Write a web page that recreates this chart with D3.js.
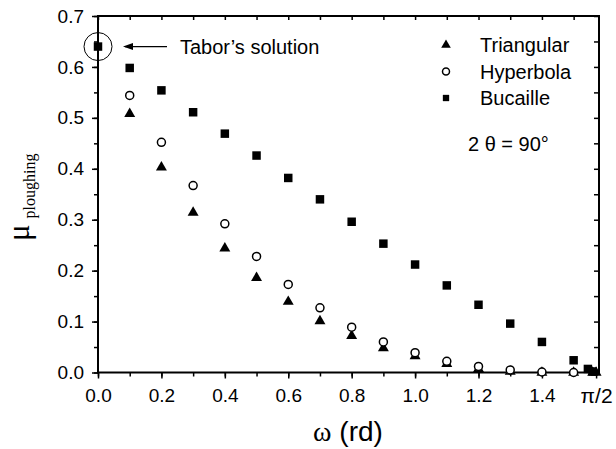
<!DOCTYPE html>
<html>
<head>
	<script src="https://cdnjs.cloudflare.com/ajax/libs/d3/7.8.2/d3.min.js"></script>
	<style>
		body { margin: 0 ; background: white ; }
		svg { display: block ; }
		.tick text { font-family: Arial, "Liberation Sans", sans-serif ; }
	</style>
</head>
<body>
	<svg id="canvas"></svg>
</body>
<script>
	// data
	let xTriangular = [ 0.1, 0.2, 0.3, 0.4, 0.5, 0.6, 0.7, 0.8, 0.9, 1.0, 1.1, 1.2, 1.3, 1.4, 1.5, 1.56, 1.5708 ] ;
	let yTriangular = [ 0.508, 0.403, 0.314, 0.244, 0.186, 0.139, 0.101, 0.072, 0.048, 0.032, 0.017, 0.007, 0.002, 0.0, 0.0, 0.0, 0.0 ] ;

	let xHyperbola = [ 0.1, 0.2, 0.3, 0.4, 0.5, 0.6, 0.7, 0.8, 0.9, 1.0, 1.1, 1.2, 1.3, 1.4, 1.5 ] ;
	let yHyperbola = [ 0.544, 0.452, 0.367, 0.292, 0.228, 0.173, 0.127, 0.089, 0.060, 0.039, 0.022, 0.012, 0.005, 0.001, 0.0 ] ;

	let xBucaille = [ 0.0, 0.1, 0.2, 0.3, 0.4, 0.5, 0.6, 0.7, 0.8, 0.9, 1.0, 1.1, 1.2, 1.3, 1.4, 1.5, 1.545, 1.56 ] ;
	let yBucaille = [ 0.640, 0.598, 0.554, 0.511, 0.469, 0.426, 0.382, 0.340, 0.296, 0.253, 0.212, 0.171, 0.133, 0.096, 0.060, 0.024, 0.007, 0.002 ] ;

	let xTicks = [ 0.0, 0.2, 0.4, 0.6, 0.8, 1.0, 1.2, 1.4, Math.PI / 2 ] ;
	let xTickLabels = [ "0.0", "0.2", "0.4", "0.6", "0.8", "1.0", "1.2", "1.4", "π/2" ] ;
	let xMinor = d3.range( 0, 16 ).map( i => i / 10 ) ;
	let yTicks = [ 0.0, 0.1, 0.2, 0.3, 0.4, 0.5, 0.6, 0.7 ] ;
	let yMinor = d3.range( 0, 15 ).map( i => i / 20 ) ;

	let legendNames = [ "Triangular", "Hyperbola", "Bucaille" ] ;
</script>
<script>
	let geom = {
		width: 616,
		height: 449,
		margin: { left: 98, right: 17, top: 16, bottom: 76.5 }
	} ;
	let scales = {
		x: d3.scaleLinear()
			.domain( [ 0, 1.58 ] )
			.range( [ geom.margin.left, geom.width - geom.margin.right ] ),
		y: d3.scaleLinear()
			.domain( [ 0, 0.7 ] )
			.range( [ geom.height - geom.margin.bottom, geom.margin.top ] )
	} ;

	let svg = d3.select( 'svg' )
		.attr( 'width', geom.width )
		.attr( 'height', geom.height ) ;

	let x0 = scales.x.range()[0], x1 = scales.x.range()[1] ;
	let y0 = scales.y.range()[0], y1 = scales.y.range()[1] ;

	let styleAxis = function( g ) {
		g.select( '.domain' ).remove() ;
		g.selectAll( 'line' ).attr( 'stroke', 'black' ).attr( 'stroke-width', 1.5 ) ;
		g.selectAll( 'text' ).attr( 'font-size', 19 ).attr( 'fill', 'black' ) ;
	} ;

	// minor ticks
	svg.append( 'g' )
		.attr( 'transform', 'translate(0,' + y0 + ')' )
		.call( d3.axisBottom( scales.x ).tickValues( xMinor ).tickSize( 4 ).tickFormat( '' ) )
		.call( styleAxis ) ;
	svg.append( 'g' )
		.attr( 'transform', 'translate(0,' + y1 + ')' )
		.call( d3.axisBottom( scales.x ).tickValues( xMinor ).tickSize( 4 ).tickFormat( '' ) )
		.call( styleAxis ) ;
	svg.append( 'g' )
		.attr( 'transform', 'translate(' + x0 + ',0)' )
		.call( d3.axisLeft( scales.y ).tickValues( yMinor ).tickSize( 4 ).tickFormat( '' ) )
		.call( styleAxis ) ;
	svg.append( 'g' )
		.attr( 'transform', 'translate(' + x1 + ',0)' )
		.call( d3.axisLeft( scales.y ).tickValues( yMinor ).tickSize( 5 ).tickFormat( '' ) )
		.call( styleAxis ) ;

	// labelled ticks
	svg.append( 'g' )
		.attr( 'transform', 'translate(0,' + y0 + ')' )
		.call( d3.axisBottom( scales.x ).tickValues( xTicks ).tickSize( 6 ).tickPadding( 10 )
			.tickFormat( ( d, i ) => xTickLabels[i] ) )
		.call( styleAxis )
		.selectAll( 'text' )
		.filter( ( d, i ) => i == xTicks.length - 1 )
		.attr( 'font-family', 'Times New Roman, Liberation Serif, serif' )
		.attr( 'font-size', 21 ) ;
	svg.append( 'g' )
		.attr( 'transform', 'translate(' + x0 + ',0)' )
		.call( d3.axisLeft( scales.y ).tickValues( yTicks ).tickSize( 6 ).tickPadding( 8 )
			.tickFormat( d3.format( '.1f' ) ) )
		.call( styleAxis ) ;

	// frame
	svg.append( 'rect' )
		.attr( 'x', x0 ).attr( 'y', y1 )
		.attr( 'width', x1 - x0 ).attr( 'height', y0 - y1 )
		.attr( 'fill', 'none' )
		.attr( 'stroke', 'black' )
		.attr( 'stroke-width', 2 ) ;

	// markers
	let triangle = d3.symbol().type( d3.symbolTriangle ).size( 52 ) ;
	let square = d3.symbol().type( d3.symbolSquare ).size( 72 ) ;

	svg.append( 'g' ).selectAll( 'path' )
		.data( d3.zip( xTriangular, yTriangular ) )
		.join( 'path' )
		.attr( 'transform', d => 'translate(' + scales.x( d[0] ) + ',' + scales.y( d[1] ) + ')' )
		.attr( 'd', triangle )
		.attr( 'fill', 'black' ) ;

	svg.append( 'g' ).selectAll( 'circle' )
		.data( d3.zip( xHyperbola, yHyperbola ) )
		.join( 'circle' )
		.attr( 'cx', d => scales.x( d[0] ) )
		.attr( 'cy', d => scales.y( d[1] ) )
		.attr( 'r', 4 )
		.attr( 'fill', 'white' )
		.attr( 'stroke', 'black' )
		.attr( 'stroke-width', 1.5 ) ;

	svg.append( 'g' ).selectAll( 'path' )
		.data( d3.zip( xBucaille, yBucaille ) )
		.join( 'path' )
		.attr( 'transform', d => 'translate(' + scales.x( d[0] ) + ',' + scales.y( d[1] ) + ')' )
		.attr( 'd', square )
		.attr( 'fill', 'black' ) ;

	// Tabor's solution annotation
	let tx = scales.x( xBucaille[0] ), ty = scales.y( yBucaille[0] ) ;
	svg.append( 'circle' )
		.attr( 'cx', tx ).attr( 'cy', ty ).attr( 'r', 14 )
		.attr( 'fill', 'none' ).attr( 'stroke', 'black' ).attr( 'stroke-width', 1 ) ;
	svg.append( 'line' )
		.attr( 'x1', tx + 69 ).attr( 'y1', ty )
		.attr( 'x2', tx + 27 ).attr( 'y2', ty )
		.attr( 'stroke', 'black' ).attr( 'stroke-width', 1.2 ) ;
	svg.append( 'path' )
		.attr( 'd', 'M' + ( tx + 25 ) + ',' + ty + 'l10,-3.5l0,7z' )
		.attr( 'fill', 'black' ) ;
	svg.append( 'text' )
		.attr( 'x', tx + 82 ).attr( 'y', ty + 7 )
		.attr( 'font-family', 'Arial, Liberation Sans, sans-serif' )
		.attr( 'font-size', 20 )
		.text( "Tabor’s solution" ) ;

	// legend
	let legend = svg.append( 'g' )
		.attr( 'font-family', 'Arial, Liberation Sans, sans-serif' )
		.attr( 'font-size', 20 ) ;
	let lx = 446, ly = 45, lstep = 26.5 ;
	legend.append( 'path' )
		.attr( 'transform', 'translate(' + lx + ',' + ly + ')' )
		.attr( 'd', d3.symbol().type( d3.symbolTriangle ).size( 40 ) ) ;
	legend.append( 'circle' )
		.attr( 'cx', lx ).attr( 'cy', ly + lstep ).attr( 'r', 3.5 )
		.attr( 'fill', 'white' ).attr( 'stroke', 'black' ).attr( 'stroke-width', 1.5 ) ;
	legend.append( 'path' )
		.attr( 'transform', 'translate(' + lx + ',' + ( ly + 2 * lstep ) + ')' )
		.attr( 'd', d3.symbol().type( d3.symbolSquare ).size( 40 ) ) ;
	legend.selectAll( 'text' )
		.data( legendNames )
		.join( 'text' )
		.attr( 'x', lx + 34 )
		.attr( 'y', ( d, i ) => ly + 7 + i * lstep )
		.text( d => d ) ;

	svg.append( 'text' )
		.attr( 'x', 468 ).attr( 'y', 151 )
		.attr( 'font-family', 'Arial, Liberation Sans, sans-serif' )
		.attr( 'font-size', 20 )
		.text( "2 θ = 90°" ) ;

	// axis titles
	let xt = svg.append( 'text' )
		.attr( 'x', 348 ).attr( 'y', 441 )
		.attr( 'text-anchor', 'middle' )
		.attr( 'font-size', 28 ) ;
	xt.append( 'tspan' )
		.attr( 'font-family', 'Times New Roman, Liberation Serif, serif' )
		.text( "ω" ) ;
	xt.append( 'tspan' )
		.attr( 'font-family', 'Arial, Liberation Sans, sans-serif' )
		.text( " (rd)" ) ;

	let yt = svg.append( 'text' )
		.attr( 'transform', 'translate(29,241) rotate(-90)' )
		.attr( 'font-family', 'Times New Roman, Liberation Serif, serif' ) ;
	yt.append( 'tspan' )
		.attr( 'font-size', 31 )
		.text( "μ" ) ;
	yt.append( 'tspan' )
		.attr( 'font-size', 16 )
		.attr( 'dx', 6 )
		.attr( 'dy', 6 )
		.text( "ploughing" ) ;
</script>
</html>
